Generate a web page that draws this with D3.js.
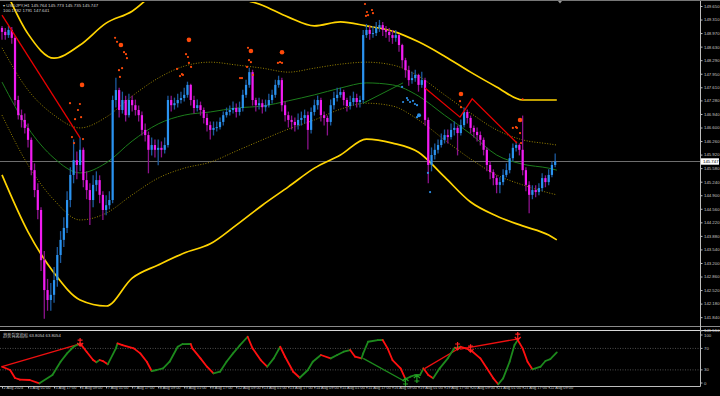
<!DOCTYPE html>
<html>
<head>
<meta charset="utf-8">
<script src="https://cdn.jsdelivr.net/npm/d3@7"></script>
<style>
html, body { margin: 0; padding: 0; background: #000; }
svg { display: block; font-family: "Liberation Sans", Arial, "Noto Sans CJK SC", sans-serif; }
</style>
</head>
<body>
<svg width="720" height="396"></svg>
<script>
// USDJPY H1, drawn as 2-hour candles (hour index = 2 * k)
var firstOpen = 149.10;
var closes = [
149.00,148.92,149.05,148.85,147.29,146.91,146.79,146.59,146.29,145.53,
145.03,144.53,143.27,142.52,142.27,142.40,142.77,143.40,143.78,144.08,
144.78,145.41,145.78,145.66,146.04,145.28,145.03,144.78,145.16,145.28,
144.91,144.53,144.65,144.78,147.29,147.54,147.04,147.29,146.91,147.29,
147.16,147.04,146.91,146.54,146.41,146.04,146.16,146.04,146.09,146.04,
146.16,147.29,147.16,147.21,147.29,147.34,147.42,147.67,147.29,147.09,
147.16,147.04,146.84,146.66,146.54,146.59,146.61,146.74,146.91,146.99,
147.04,147.09,146.99,147.09,147.42,147.67,147.99,147.29,147.16,147.21,
147.11,147.16,147.29,147.42,147.67,147.79,147.16,146.91,146.79,146.74,
146.66,146.79,146.84,146.91,146.54,146.99,147.16,147.29,146.91,146.84,
146.74,147.16,147.34,147.42,147.49,147.29,147.14,147.24,147.34,147.24,
147.29,148.92,149.05,148.95,148.97,149.10,149.17,149.05,149.00,148.92,
148.85,148.92,148.67,148.29,148.04,147.79,147.84,147.92,147.67,147.79,
146.79,145.66,145.91,146.04,146.16,146.29,146.41,146.36,146.54,146.59,
146.46,146.66,146.99,146.84,146.59,146.49,146.41,146.29,146.04,145.66,
145.48,145.33,145.16,145.23,145.41,145.53,145.83,146.09,146.16,146.04,
145.53,145.16,144.91,145.03,144.98,145.08,145.33,145.23,145.41,145.66,
145.75];
var highs = [
149.15,149.10,149.15,149.12,148.90,147.40,147.05,146.95,146.70,146.35,
145.70,145.20,144.60,143.50,142.80,142.70,143.10,143.60,144.00,144.35,
145.00,145.60,146.30,146.00,146.35,146.10,145.50,145.20,145.40,145.50,
145.40,145.00,144.90,145.00,147.40,147.85,147.60,147.50,147.40,147.45,
147.40,147.30,147.15,147.00,146.70,146.50,146.35,146.30,146.30,146.25,
146.35,147.40,147.40,147.35,147.45,147.50,147.60,147.75,147.70,147.40,
147.30,147.25,147.10,146.95,146.75,146.75,146.75,146.85,147.00,147.10,
147.15,147.25,147.20,147.25,147.55,147.80,148.10,148.05,147.35,147.35,
147.30,147.30,147.45,147.55,147.80,147.90,147.85,147.25,147.00,146.90,
146.85,146.95,147.00,147.05,147.00,147.10,147.30,147.40,147.35,147.00,
146.90,147.30,147.50,147.60,147.60,147.55,147.35,147.40,147.50,147.45,
147.40,149.05,149.20,149.15,149.15,149.25,149.30,149.25,149.15,149.10,
149.05,149.05,148.95,148.70,148.35,148.15,148.00,148.05,147.95,148.00,
147.85,146.85,146.10,146.20,146.30,146.45,146.55,146.55,146.70,146.75,
146.65,146.80,147.10,147.05,146.90,146.65,146.60,146.50,146.35,146.10,
145.75,145.55,145.40,145.35,145.55,145.70,145.95,146.20,146.25,146.20,
146.90,145.60,145.25,145.15,145.15,145.20,145.45,145.40,145.55,145.75,
145.95];
var lows = [
148.80,148.80,148.85,148.70,147.15,146.80,146.60,146.45,146.10,145.40,
144.85,144.30,143.00,141.80,142.00,142.00,142.20,142.60,143.20,143.60,
143.95,144.60,145.20,145.30,145.50,145.10,144.80,144.15,144.60,145.00,
144.70,144.28,144.40,144.55,144.70,147.10,146.85,146.95,146.75,146.85,
147.00,146.90,146.75,146.40,146.25,145.45,145.90,145.85,145.65,145.85,
145.95,146.10,147.00,147.05,147.10,147.20,147.25,147.35,147.15,146.95,
147.00,146.90,146.70,146.50,146.30,146.40,146.50,146.55,146.65,146.85,
146.90,146.95,146.85,146.90,147.00,147.35,147.60,147.15,147.00,147.05,
146.95,147.00,147.10,147.20,147.35,147.60,147.00,146.75,146.60,146.55,
146.50,146.55,146.65,146.70,146.05,146.45,146.90,147.05,146.75,146.65,
146.40,146.65,147.05,147.25,147.35,147.15,147.00,147.05,147.15,147.10,
147.10,147.20,148.85,148.80,148.85,148.90,149.00,148.90,148.85,148.75,
148.70,148.75,148.50,148.10,147.85,147.65,147.70,147.75,147.50,147.60,
146.65,145.20,145.50,145.80,145.95,146.10,146.20,146.20,146.30,146.40,
145.90,146.40,146.60,146.70,146.45,146.35,146.25,146.15,145.90,145.50,
145.30,145.15,144.95,144.95,145.15,145.35,145.45,145.75,146.00,145.90,
145.40,145.00,144.45,144.80,144.85,144.90,145.00,145.10,145.15,145.35,
145.60];

// time axis (hour index of every label)
var timeTicks = [0,16,32,48,64,80,96,112,128,144,160,176,192,208,224,240,256,272,288,304,320,336];
var timeLabels = ["2 Aug 2024","5 Aug 01:00","5 Aug 17:00","6 Aug 09:00","7 Aug 01:00","7 Aug 17:00",
  "8 Aug 09:00","9 Aug 01:00","9 Aug 17:00","12 Aug 09:00","13 Aug 01:00","13 Aug 17:00","14 Aug 09:00",
  "15 Aug 01:00","15 Aug 17:00","16 Aug 09:00","19 Aug 01:00","19 Aug 17:00","20 Aug 09:00",
  "21 Aug 01:00","21 Aug 17:00","22 Aug 09:00"];

var priceTicks = [149.650,149.310,148.970,148.630,148.290,147.950,147.610,147.280,146.940,146.600,
  146.260,145.920,145.580,145.240,144.900,144.560,144.220,143.880,143.540,143.200,142.860,142.520,
  142.180,141.840,141.510];
var lastPrice = 145.747;

// envelope bands, sampled every 16 hours
var bandHours = [0,16,32,48,64,80,96,112,128,144,160,176,192,208,224,240,256,272,288,304,320,336,341];
var upperOuter = [150.25,148.95,148.34,148.67,149.22,149.52,150.05,150.35,150.43,149.90,149.67,149.37,149.15,149.25,149.15,149.02,148.75,148.39,147.99,147.62,147.29,147.29,147.29];
var lowerOuter = [145.41,143.98,142.95,142.27,142.12,142.82,143.15,143.45,143.68,144.15,144.65,145.11,145.58,145.91,146.31,146.21,145.98,145.36,144.73,144.38,144.13,143.90,143.78];
var midLine    = [147.74,146.59,145.83,145.46,145.71,146.26,146.69,146.91,146.99,147.09,147.14,147.27,147.42,147.59,147.72,147.67,147.39,146.91,146.44,145.91,145.68,145.58,145.53];
var upperInner = [148.60,147.54,146.91,146.59,146.86,147.39,147.84,148.14,148.24,148.17,148.09,147.99,148.09,148.19,148.24,148.17,147.89,147.42,146.96,146.54,146.29,146.19,146.16];
var lowerInner = [146.91,145.66,144.78,144.28,144.45,144.91,145.33,145.58,145.73,146.01,146.29,146.56,146.79,147.06,147.21,147.14,146.79,146.29,145.81,145.41,145.16,144.96,144.91];

// signal dots [hour, price, big]
var orangeDots = [
  [41.8,147.21,0],[43,146.36,0],[44.3,146.21,0],[44.9,146.81,0],[46.7,147.04,0],[47.9,147.19,0],[48.6,146.86,0],[49.2,147.67,1],[49.8,146.31,0],
  [69.5,148.85,0],[70.7,148.75,0],[73.1,148.67,1],[75,148.49,0],[76.2,148.44,0],[76.8,148.34,0],[71.9,148.04,0],[73.8,148.09,0],[72.5,147.87,0],
  [107.6,148.07,0],[109.4,147.89,0],[110.6,147.94,0],[111.2,147.92,0],[113.1,148.44,0],[114.3,148.37,0],[114.9,148.80,1],[114.9,148.22,0],[116.2,148.12,0],
  [146.3,147.84,0],[147.5,147.84,0],[150.6,148.12,0],[151.2,148.60,0],[151.8,148.29,0],[153,148.52,1],[153,148.24,0],[154.3,147.92,0],
  [169.6,148.22,0],[170.9,148.24,0],[172.1,148.49,1],[172.1,148.22,0],
  [223.1,149.70,0],[223.7,149.40,0],[224.3,149.50,0],[225,149.42,0],[227.4,149.55,0],[228,149.47,0],
  [281.5,147.26,0],[282.1,147.44,1],[282.1,147.11,0],
  [314,146.59,0],[315.9,146.61,0],[316.5,146.59,0],[318.4,146.79,1],[318.4,146.46,0],[319,146.21,0],[320,147.31,0]
];
var blueDots = [
  [245.9,147.62,0],[246.5,147.24,0],[248.9,147.34,0],[249.5,147.29,0],[250.8,147.24,0],[252.6,147.27,0],
  [253.8,147.19,0],[255.1,147.16,0],[255.1,146.86,0],[256.3,146.91,1],[261.8,145.46,0],[263.1,144.98,0]
];

// trend lines [hour, price]
var redLines = [
  [[0,149.42],[48,146.34]],
  [[260,147.59],[281.5,146.86],[289,147.32],[316.5,146.21]]
];
var greenLines = [[[222,147.21],[246.5,147.72]]];

// lower indicator
var indHours = [0,5,8,11,17,23,31,36,40,44,48,52,56,58,60,62,65,70,71,74,81,85,89,92,95,99,103,108,111,116,
  117,122,126,130,134,138,142,146,151,154,159,163,167,171,174,179,183,188,191,196,202,206,210,214,217,221,
  222,225,231,234,237,240,245,248,251,254,257,259,262,265,269,274,278,282,285,288,294,298,302,305,308,312,
  315,317,320,323,326,331,334,337,341];
var indValues = [35.9,29.8,14.9,11.8,11.2,5.0,20.5,45.2,60.8,73.1,79.4,63.8,48.4,44.1,48.4,46.5,40.4,70.1,79.4,76.3,
  70.1,60.8,45.2,27.9,29.8,32.9,45.2,73.1,78.1,78.2,70.1,51.5,35.9,23.6,26.6,45.2,60.8,75,91.7,70.1,
  48.4,35.9,51.5,73.1,54.5,26.6,15.4,29.8,45.2,57.7,51.5,57.7,63.8,67.0,54.5,51.5,60.8,82.4,85.6,85.7,
  70.1,48.4,32.9,13.0,17.3,20.5,20.6,32.9,20.5,14.3,32.9,51.5,70.1,73.1,70.1,67,51.5,32.9,14.3,3.2,
  14.3,45.2,76.3,85.6,70.1,45.2,31.1,35.9,46.5,50.2,62.7];
var indLevels = [70, 30];
var indTicks = [100, 70, 30, 0];
var indRedLines = [[[0,35.9],[49,79.4]], [[260,32.9],[281.5,71.3]], [[281.5,68.8],[316.5,87.4]]];
var indGreenLines = [[[222,51.5],[248,8.0]]];
var indDownArrows = [[48,74.4],[280,67],[288,63],[317,85.6]];
var indUpArrows = [[248,14.9],[255,20.5]];

var svg = d3.select("svg"),
    axisX = 700,
    mainTop = 2, mainBot = 326,
    indTop = 331, indBot = 386;

var x = d3.scaleLinear().domain([0, 341]).range([2, 2 + 341 * 1.627]);
var y = d3.scaleLinear().domain([141.51, 149.65]).range([330.3, 6]);
var yi = d3.scaleLinear().domain([0, 100]).range([386, 332.3]);

svg.append("rect").attr("width", 720).attr("height", 396).attr("fill", "#000");

var defs = svg.append("defs");
defs.append("clipPath").attr("id", "mainClip").append("rect")
  .attr("x", 0).attr("y", mainTop).attr("width", axisX).attr("height", mainBot - mainTop);
defs.append("clipPath").attr("id", "indClip").append("rect")
  .attr("x", 0).attr("y", indTop).attr("width", axisX).attr("height", indBot - indTop);

var main = svg.append("g").attr("clip-path", "url(#mainClip)");

// current price line
main.append("line")
  .attr("x1", 0).attr("x2", axisX)
  .attr("y1", Math.round(y(lastPrice)) + 0.5).attr("y2", Math.round(y(lastPrice)) + 0.5)
  .attr("stroke", "#6e6e6e").attr("stroke-width", 1);

// bands
var bandLine = function(vals) {
  return d3.line()
    .x(function(d, i) { return x(bandHours[i]); })
    .y(function(d) { return y(d); })
    .curve(d3.curveMonotoneX)(vals);
};
[upperInner, lowerInner].forEach(function(b) {
  main.append("path").attr("d", bandLine(b))
    .attr("fill", "none").attr("stroke", "#9a8400").attr("stroke-width", 1)
    .attr("stroke-dasharray", "1,1.6");
});
main.append("path").attr("d", bandLine(midLine))
  .attr("fill", "none").attr("stroke", "#1c7d1c").attr("stroke-width", 1);
[upperOuter, lowerOuter].forEach(function(b) {
  main.append("path").attr("d", bandLine(b))
    .attr("fill", "none").attr("stroke", "#ffd400").attr("stroke-width", 1.7);
});

// candles
var candles = main.append("g");
closes.forEach(function(c, k) {
  var o = k === 0 ? firstOpen : closes[k - 1];
  var up = c >= o;
  var cx = x(2 * k);
  candles.append("line")
    .attr("x1", cx).attr("x2", cx)
    .attr("y1", y(highs[k])).attr("y2", y(lows[k]))
    .attr("stroke", up ? "#1c5a9e" : "#8c128c").attr("stroke-width", 1.3);
  var top = y(Math.max(o, c)), bot = y(Math.min(o, c));
  candles.append("rect")
    .attr("x", cx - 1.1).attr("width", 2.2)
    .attr("y", top).attr("height", Math.max(1, bot - top))
    .attr("fill", up ? "#2b93f0" : "#f21cf2");
});

// trend lines
var trendLine = d3.line().x(function(d) { return x(d[0]); }).y(function(d) { return y(d[1]); });
redLines.forEach(function(l) {
  main.append("path").attr("d", trendLine(l)).attr("fill", "none")
    .attr("stroke", "#e80000").attr("stroke-width", 1.3);
});
greenLines.forEach(function(l) {
  main.append("path").attr("d", trendLine(l)).attr("fill", "none")
    .attr("stroke", "#1c7d1c").attr("stroke-width", 1);
});

// dots
main.selectAll(".odot").data(orangeDots).enter().append("circle")
  .attr("cx", function(d) { return x(d[0]); })
  .attr("cy", function(d) { return y(d[1]); })
  .attr("r", function(d) { return d[2] ? 2.3 : 1.1; })
  .attr("fill", "#ff4a0a");
main.selectAll(".bdot").data(blueDots).enter().append("circle")
  .attr("cx", function(d) { return x(d[0]); })
  .attr("cy", function(d) { return y(d[1]); })
  .attr("r", function(d) { return d[2] ? 2.0 : 1.1; })
  .attr("fill", "#2d8fe8");

// header
svg.append("text").attr("x", 3).attr("y", 7).attr("font-size", "4.4px").attr("fill", "#d0d0d0")
  .text("\u25BE USDJPY,H1  145.764 145.773 145.735 145.747");
svg.append("text").attr("x", 3).attr("y", 12).attr("font-size", "4.4px").attr("fill", "#d0d0d0")
  .text("100.1782 1791 147.641");

// shift marker
svg.append("path").attr("d", "M558,1 L562,1 L560,3.5 Z").attr("fill", "#9a9a9a");

// indicator pane
var ind = svg.append("g").attr("clip-path", "url(#indClip)");
indLevels.forEach(function(v) {
  ind.append("line").attr("x1", 0).attr("x2", axisX)
    .attr("y1", yi(v)).attr("y2", yi(v))
    .attr("stroke", "#6f6f6f").attr("stroke-width", 0.7).attr("stroke-dasharray", "1,1.5");
});
var indLine = d3.line().x(function(d) { return x(d[0]); }).y(function(d) { return yi(d[1]); });
indRedLines.forEach(function(l) {
  ind.append("path").attr("d", indLine(l)).attr("fill", "none").attr("stroke", "#ee1010").attr("stroke-width", 1.3);
});
indGreenLines.forEach(function(l) {
  ind.append("path").attr("d", indLine(l)).attr("fill", "none").attr("stroke", "#1d8a1d").attr("stroke-width", 1.3);
});
for (var i = 0; i < indHours.length - 1; i++) {
  var falling = indValues[i + 1] < indValues[i];
  ind.append("path")
    .attr("d", indLine([[indHours[i], indValues[i]], [indHours[i + 1], indValues[i + 1]]]))
    .attr("fill", "none").attr("stroke", falling ? "#ff1010" : "#1d8a1d")
    .attr("stroke-width", 1.8).attr("stroke-linecap", "round");
}
indDownArrows.forEach(function(a) {
  var ax = x(a[0]), ay = yi(a[1]);
  ind.append("path")
    .attr("d", "M" + ax + "," + (ay - 8) + "V" + ay + "M" + (ax - 3) + "," + (ay - 3) + "L" + ax + "," + ay + "L" + (ax + 3) + "," + (ay - 3) +
      "M" + (ax - 2.5) + "," + (ay - 6) + "H" + (ax + 2.5))
    .attr("fill", "none").attr("stroke", "#ff2020").attr("stroke-width", 1.2);
});
indUpArrows.forEach(function(a) {
  var ax = x(a[0]), ay = yi(a[1]);
  ind.append("path")
    .attr("d", "M" + ax + "," + (ay + 8) + "V" + ay + "M" + (ax - 3) + "," + (ay + 3) + "L" + ax + "," + ay + "L" + (ax + 3) + "," + (ay + 3) +
      "M" + (ax - 2.5) + "," + (ay + 6) + "H" + (ax + 2.5))
    .attr("fill", "none").attr("stroke", "#22a022").attr("stroke-width", 1.2);
});
svg.append("text").attr("x", 3).attr("y", 337).attr("font-size", "4.2px").attr("fill", "#d0d0d0")
  .text("趋势背离指标 63.8054 63.8054");

// frame
var frame = svg.append("g").attr("stroke", "#bdbdbd").attr("stroke-width", 1).attr("fill", "none");
frame.append("line").attr("x1", 0).attr("x2", 720).attr("y1", 0.5).attr("y2", 0.5).attr("stroke", "#777");
frame.append("line").attr("x1", 0).attr("x2", 720).attr("y1", 326.5).attr("y2", 326.5).attr("stroke", "#8a8a8a");
frame.append("line").attr("x1", 0).attr("x2", 720).attr("y1", 330.5).attr("y2", 330.5).attr("stroke", "#d8d8d8");
frame.append("line").attr("x1", 0).attr("x2", axisX + 0.5).attr("y1", 386.5).attr("y2", 386.5);
frame.append("line").attr("x1", axisX + 0.5).attr("x2", axisX + 0.5).attr("y1", 1).attr("y2", 386.5);

// price axis
var pAxis = svg.append("g").attr("transform", "translate(" + (axisX + 0.5) + ",0)")
  .call(d3.axisRight(y).tickValues(priceTicks).tickSize(2).tickPadding(1.5).tickFormat(d3.format(".3f")));
pAxis.select(".domain").remove();
pAxis.selectAll("line").attr("stroke", "#bdbdbd");
pAxis.selectAll("text").attr("fill", "#c8c8c8").attr("font-size", "4.3px").attr("font-family", "Liberation Sans, Arial, sans-serif");

// last price label
var ly = y(lastPrice);
svg.append("rect").attr("x", axisX + 1).attr("y", ly - 3.2).attr("width", 18).attr("height", 6.4).attr("fill", "#fff");
svg.append("text").attr("x", axisX + 3).attr("y", ly + 1.5).attr("font-size", "4.3px").attr("fill", "#000")
  .text(d3.format(".3f")(lastPrice));

// indicator axis
var iAxis = svg.append("g").attr("transform", "translate(" + (axisX + 0.5) + ",0)");
indTicks.forEach(function(v) {
  var ty = Math.max(indTop + 4, Math.min(indBot - 3, yi(v)));
  iAxis.append("line").attr("x1", 0).attr("x2", 2).attr("y1", ty).attr("y2", ty).attr("stroke", "#bdbdbd");
  iAxis.append("text").attr("x", 3.5).attr("y", ty + 1.5).attr("font-size", "4.3px").attr("fill", "#c8c8c8").text(v);
});

// time axis
var tAxis = svg.append("g").attr("transform", "translate(0," + (indBot + 0.5) + ")")
  .call(d3.axisBottom(x).tickValues(timeTicks).tickSize(2).tickFormat(function(d, i) { return timeLabels[i]; }));
tAxis.select(".domain").remove();
tAxis.selectAll("line").attr("stroke", "#bdbdbd");
tAxis.selectAll("text").attr("fill", "#c8c8c8").attr("font-size", "3.9px")
  .attr("text-anchor", "start").attr("dx", "1").attr("dy", "0.2em").attr("y", 2)
  .attr("font-family", "Liberation Sans, Arial, sans-serif");
</script>
</body>
</html>
